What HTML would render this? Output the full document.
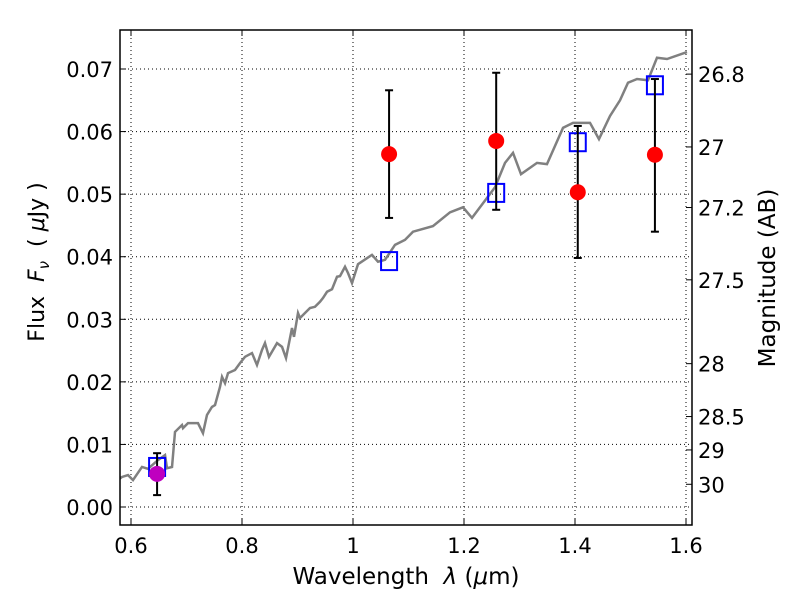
<!DOCTYPE html>
<html><head><meta charset="utf-8"><style>
body{margin:0;background:#fff}
svg{display:block;font-family:"DejaVu Sans","Liberation Sans",sans-serif}
</style></head><body>
<svg id="chart" width="800" height="600"></svg>
<script>
const specX=[0.5712,0.5838,0.5946,0.6036,0.6198,0.6306,0.6486,0.6613,0.6649,0.6739,0.6793,0.6919,0.6937,0.7027,0.7207,0.7297,0.7369,0.7459,0.7514,0.7604,0.7640,0.7694,0.7748,0.7874,0.7964,0.8054,0.8180,0.8270,0.8360,0.8414,0.8486,0.8631,0.8721,0.8793,0.8901,0.8937,0.9009,0.9045,0.9135,0.9225,0.9315,0.9405,0.9459,0.9532,0.9622,0.9712,0.9766,0.9856,0.9910,0.9982,1.0090,1.0342,1.0450,1.0577,1.0757,1.0937,1.1081,1.1441,1.1748,1.1982,1.2144,1.2559,1.2739,1.2883,1.3027,1.3315,1.3495,1.3784,1.3964,1.4270,1.4432,1.4631,1.4811,1.4955,1.5117,1.5315,1.5477,1.5658,1.6018];
const specY=[0.0040,0.0048,0.0051,0.0043,0.0064,0.0061,0.0075,0.0083,0.0062,0.0064,0.0120,0.0131,0.0126,0.0134,0.0134,0.0118,0.0147,0.0160,0.0163,0.0192,0.0208,0.0198,0.0214,0.0219,0.0230,0.0240,0.0246,0.0227,0.0251,0.0262,0.0240,0.0262,0.0256,0.0238,0.0286,0.0272,0.0310,0.0302,0.0310,0.0318,0.0320,0.0328,0.0334,0.0344,0.0348,0.0368,0.0369,0.0384,0.0374,0.0358,0.0388,0.0403,0.0392,0.0395,0.0419,0.0427,0.0440,0.0449,0.0471,0.0479,0.0462,0.0511,0.0550,0.0566,0.0532,0.0550,0.0548,0.0606,0.0614,0.0614,0.0588,0.0625,0.0650,0.0678,0.0684,0.0682,0.0718,0.0716,0.0727];
const obsX=[1.065,1.258,1.405,1.544];
const obsY=[0.0564,0.0585,0.0503,0.0563];
const obsLo=[0.0462,0.0475,0.0398,0.0440];
const obsHi=[0.0666,0.0694,0.0609,0.0684];
const magX=[0.647]; const magY=[0.0053]; const magLo=[0.0019]; const magHi=[0.0086];
const modX=[0.647,1.065,1.258,1.405,1.544];
const modY=[0.0064,0.0393,0.0502,0.0583,0.0674];
const xTicks=[0.6,0.8,1.0,1.2,1.4,1.6];
const xTickLabels=["0.6","0.8","1","1.2","1.4","1.6"];
const yTicks=[0,0.01,0.02,0.03,0.04,0.05,0.06,0.07];
const yTickLabels=["0.00","0.01","0.02","0.03","0.04","0.05","0.06","0.07"];
const magTicks=[26.8,27,27.2,27.5,28,28.5,29,30];
const magTickLabels=["26.8","27","27.2","27.5","28","28.5","29","30"];

const L=120,R=692,T=30,B=525;
const sx=v=>131+(v-0.6)*555;
const sy=v=>507-v*6257;
const svg=document.getElementById('chart');
const NS='http://www.w3.org/2000/svg';
function mk(tag,attrs,parent){const e=document.createElementNS(NS,tag);for(const k in attrs)e.setAttribute(k,attrs[k]);(parent||svg).appendChild(e);return e;}

xTicks.forEach(v=>{const l=mk('line',{x1:sx(v),x2:sx(v),y1:T,y2:B,stroke:'#000','stroke-width':1,'stroke-dasharray':'1,3'});

});
yTicks.forEach(v=>{const l=mk('line',{x1:L,x2:R,y1:sy(v),y2:sy(v),stroke:'#000','stroke-width':1,'stroke-dasharray':'1,3'});

});

const clip=mk('clipPath',{id:'pc'});mk('rect',{x:L,y:T,width:R-L,height:B-T},clip);
const sp=mk('polyline',{points:specX.map((x,i)=>sx(x)+','+sy(specY[i])).join(' '),fill:'none',stroke:'#808080','stroke-width':2.5,'clip-path':'url(#pc)'});



function errbar(x,lo,hi){
  const g=mk('g',{stroke:'#000','stroke-width':2});
  
  
  mk('line',{x1:sx(x),x2:sx(x),y1:sy(lo),y2:sy(hi)},g);
  mk('line',{x1:sx(x)-4,x2:sx(x)+4,y1:sy(lo),y2:sy(lo)},g);
  mk('line',{x1:sx(x)-4,x2:sx(x)+4,y1:sy(hi),y2:sy(hi)},g);
}
modX.forEach((x,i)=>{const r=mk('rect',{x:sx(x)-8,y:sy(modY[i])-9,width:16,height:18,fill:'none',stroke:'#0000ff','stroke-width':2});

});
obsX.forEach((x,i)=>{errbar(x,obsLo[i],obsHi[i]);
const c=mk('circle',{cx:sx(x),cy:sy(obsY[i]),r:8,fill:'#ff0000'});

});
magX.forEach((x,i)=>{errbar(x,magLo[i],magHi[i]);
const c=mk('circle',{cx:sx(x),cy:sy(magY[i]),r:8,fill:'#bf00bf'});

});

const fr=mk('rect',{x:L,y:T,width:R-L,height:B-T,fill:'none',stroke:'#000','stroke-width':1.5});



xTicks.forEach((v,i)=>{mk('line',{x1:sx(v),x2:sx(v),y1:B,y2:B-6,stroke:'#000'});mk('line',{x1:sx(v),x2:sx(v),y1:T,y2:T+6,stroke:'#000'});
const t=mk('text',{x:sx(v),y:B+28,'text-anchor':'middle','font-size':21});t.textContent=xTickLabels[i];

});
yTicks.forEach((v,i)=>{mk('line',{x1:L,x2:L+6,y1:sy(v),y2:sy(v),stroke:'#000'});
const t=mk('text',{x:L-7,y:sy(v)+8,'text-anchor':'end','font-size':21});t.textContent=yTickLabels[i];

});
magTicks.forEach((m,i)=>{const f=Math.pow(10,(23.9-m)/2.5);const y=sy(f);
mk('line',{x1:R,x2:R-6,y1:y,y2:y,stroke:'#000'});
const t=mk('text',{x:R+6,y:y+8,'font-size':21});t.textContent=magTickLabels[i];

});

let t=mk('text',{x:406,y:584,'text-anchor':'middle','font-size':23});
t.innerHTML='Wavelength &#160;<tspan font-style="italic">λ</tspan> (<tspan font-style="italic">μ</tspan>m)';


t=mk('text',{x:0,y:0,'text-anchor':'middle','font-size':22,transform:'translate(44,262) rotate(-90)'});
t.innerHTML='Flux &#160;<tspan font-style="italic">F</tspan><tspan font-style="italic" font-size="15" dy="5">ν</tspan><tspan dy="-5"> &#160;( </tspan><tspan font-style="italic">μ</tspan>Jy )';


t=mk('text',{x:0,y:0,'text-anchor':'middle','font-size':23,transform:'translate(775,278) rotate(-90)'});
t.textContent='Magnitude (AB)';


</script>
</body></html>
